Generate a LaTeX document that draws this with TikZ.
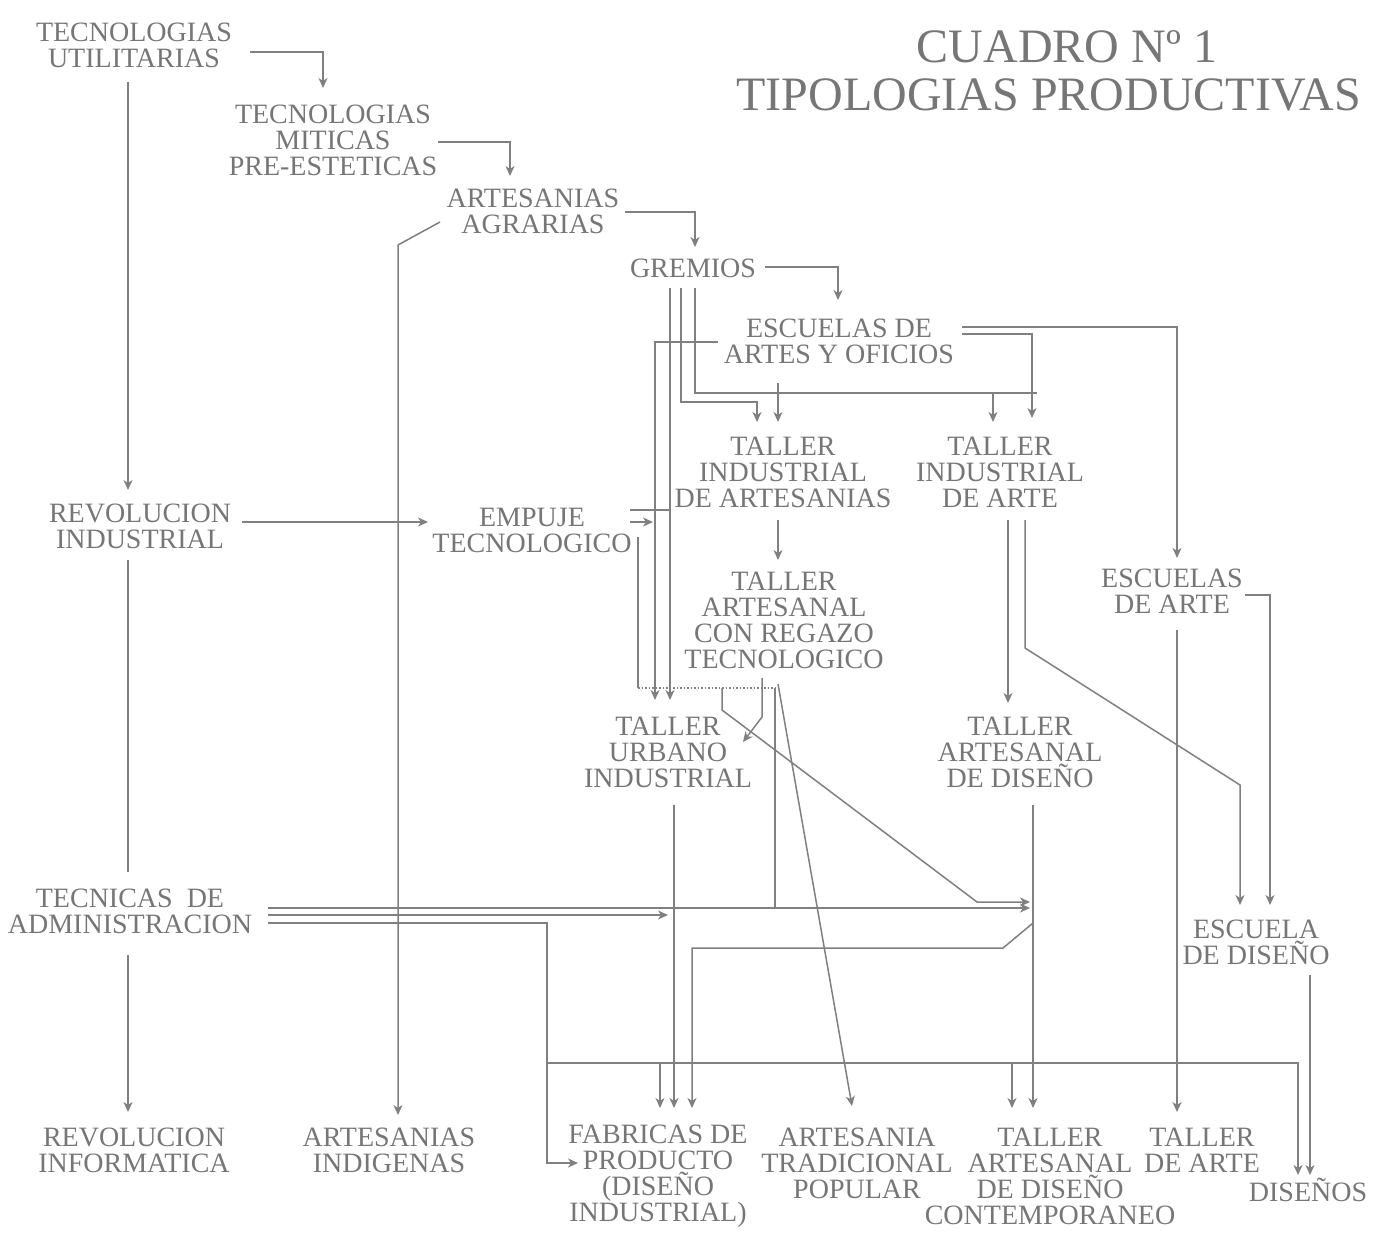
\documentclass[tikz,border=0pt]{standalone}
\usepackage{fontspec}
\setmainfont{Liberation Serif}
\usetikzlibrary{arrows.meta,calc}
\definecolor{txtc}{RGB}{118,118,118}
\definecolor{lnc}{RGB}{128,128,128}
\begin{document}
\begin{tikzpicture}[x=0.5pt,y=-0.5pt,
  lbl/.style={align=center,inner sep=0pt,text=txtc,font=\fontsize{14}{13}\selectfont},
  ttl/.style={inner sep=0pt,text=txtc,font=\fontsize{24}{24}\selectfont},
  ln/.style={draw=lnc,line width=0.75pt},
  arr/.style={ln,-{Stealth[length=5pt,width=4.5pt,inset=1.5pt]}}]
\fill[white] (0,0) rectangle (1374,1235);
\useasboundingbox (0,0) rectangle (1374,1235);

% title
\node[ttl] (t1) at (1067,47) {CUADRO Nº 1};
\node[ttl,anchor=west] (t2) at (736,95) {TIPOLOGIAS PRODUCTIVAS};

% nodes
\node[lbl] (tu) at (134,45) {TECNOLOGIAS\\UTILITARIAS};
\node[lbl] (tm) at (333,140) {TECNOLOGIAS\\MITICAS\\PRE-ESTETICAS};
\node[lbl] (aa) at (533,211) {ARTESANIAS\\AGRARIAS};
\node[lbl] (gr) at (693,268) {GREMIOS};
\node[lbl] (eao) at (839,341) {ESCUELAS DE\\ARTES Y OFICIOS};
\node[lbl] (tia) at (783,472) {TALLER\\INDUSTRIAL\\DE ARTESANIAS};
\node[lbl] (tiar) at (1000,472) {TALLER\\INDUSTRIAL\\DE ARTE};
\node[lbl] (ri) at (140,526) {REVOLUCION\\INDUSTRIAL};
\node[lbl] (et) at (532,530) {EMPUJE\\TECNOLOGICO};
\node[lbl] (tar) at (784,620) {TALLER\\ARTESANAL\\CON REGAZO\\TECNOLOGICO};
\node[lbl] (ea) at (1172,591) {ESCUELAS\\DE ARTE};
\node[lbl] (tui) at (668,752) {TALLER\\URBANO\\INDUSTRIAL};
\node[lbl] (tad) at (1020,752) {TALLER\\ARTESANAL\\DE DISEÑO};
\node[lbl] (ta) at (130,911) {TECNICAS\enspace DE\\ADMINISTRACION};
\node[lbl] (ed) at (1256,942) {ESCUELA\\DE DISEÑO};
\node[lbl] (rin) at (134,1150) {REVOLUCION\\INFORMATICA};
\node[lbl] (ai) at (389,1150) {ARTESANIAS\\INDIGENAS};
\node[lbl] (fp) at (658,1176) {FABRICAS DE\\PRODUCTO\\(DISEÑO\\INDUSTRIAL)};
\node[lbl] (atp) at (857,1163) {ARTESANIA\\TRADICIONAL\\POPULAR};
\node[lbl] (tadc) at (1050,1176) {TALLER\\ARTESANAL\\DE DISEÑO\\CONTEMPORANEO};
\node[lbl] (tda) at (1202,1150) {TALLER\\DE ARTE};
\node[lbl] (dis) at (1308,1190) {DISEÑOS};

% upper chain
\draw[arr] ($(tu)+(116,7)$) -| ($(tm)+(-10,-52)$);
\draw[arr] ($(tm)+(105,2)$) -| ($(aa)+(-23,-35)$);
\draw[arr] ($(aa)+(92,1)$) -| ($(gr)+(2,-21)$);
\draw[arr] ($(gr)+(72,-1)$) -| ($(eao)+(-1,-41)$);

% left column
\draw[arr] ($(tu)+(-6,37)$) -- ($(ri)+(-12,-36)$);
\draw[ln] ($(ri)+(-12,34)$) -- ($(ta)+(-2,-39)$);
\draw[arr] ($(ta)+(-2,44)$) -- ($(rin)+(-6,-38)$);
\draw[arr] ($(ri)+(102,-4)$) -- ($(et)+(-104,-8)$);
\draw[arr] ($(aa)+(-93,11)$) -- (398,245) -- ($(ai)+(9,-35)$);

% gremios
\draw[ln] ($(gr)+(2,20)$) |- (1037,393);
\draw[arr] (993,393) -- ($(tiar)+(-7,-50)$);
\draw[arr] ($(gr)+(-12,20)$) |- (757,402) -- ($(tia)+(-26,-50)$);
\draw[arr] ($(eao)+(-61,42)$) -- ($(tia)+(-5,-50)$);
\draw[arr] ($(gr)+(-23,20)$) -- ($(tui)+(2,-52)$);
\draw[arr] ($(eao)+(-121,1)$) -| ($(tui)+(-13,-52)$);

% empuje
\draw[ln] ($(et)+(98,-20)$) -- (670,510);
\draw[arr] ($(et)+(98,-8)$) -- (653,522);
\draw[ln] ($(et)+(106,7)$) -- (638,688);
\draw[ln,densely dotted] (638,688) -- (777,688);

% taller artesanal con regazo
\draw[arr] ($(tia)+(-5,48)$) -- ($(tar)+(-6,-60)$);
\draw[arr] ($(tar)+(-62,68)$) -- (722,710) -- (977,902) -- ($(tad)+(10,150)$);
\draw[arr] ($(tar)+(-22,58)$) -- (762,717) -- ($(tui)+(75,-10)$);
\draw[ln] ($(tar)+(-9,68)$) -- (775,908);
\draw[arr] ($(tar)+(-6,64)$) -- ($(atp)+(-5,-57)$);

% right side
\draw[arr] ($(eao)+(123,-14)$) -| ($(ea)+(5,-33)$);
\draw[arr] ($(eao)+(123,-7)$) -| ($(tiar)+(32,-54)$);
\draw[arr] ($(tiar)+(8,48)$) -- ($(tad)+(-12,-49)$);
\draw[arr] ($(tiar)+(25,48)$) -- (1025,648) -- (1240,785) -- ($(ed)+(-16,-37)$);
\draw[arr] ($(ea)+(73,4)$) -| ($(ed)+(14,-37)$);
\draw[arr] ($(ea)+(5,39)$) -- ($(tda)+(-25,-38)$);
\draw[arr] ($(ed)+(54,33)$) -- ($(dis)+(2,-15)$);
\draw[arr] ($(tad)+(13,53)$) -- ($(tadc)+(-17,-68)$);

% tecnicas de administracion
\draw[arr] ($(ta)+(138,-3)$) -- ($(tad)+(10,156)$);
\draw[arr] ($(ta)+(138,4)$) -- ($(tui)+(0,163)$);
\draw[arr] ($(ta)+(138,12)$) -- (547,923) -- (547,1163) -- ($(fp)+(-80,-13)$);
\draw[arr] (547,1063) -| ($(dis)+(-10,-15)$);
\draw[arr] (660,1063) -- ($(fp)+(2,-68)$);
\draw[arr] (1012,1063) -- ($(tadc)+(-38,-68)$);
\draw[arr] ($(tui)+(6,53)$) -- ($(fp)+(16,-68)$);
\draw[arr] (1033,923) -- (1003,948) -- (692,948) -- ($(fp)+(34,-68)$);
\end{tikzpicture}
\end{document}
